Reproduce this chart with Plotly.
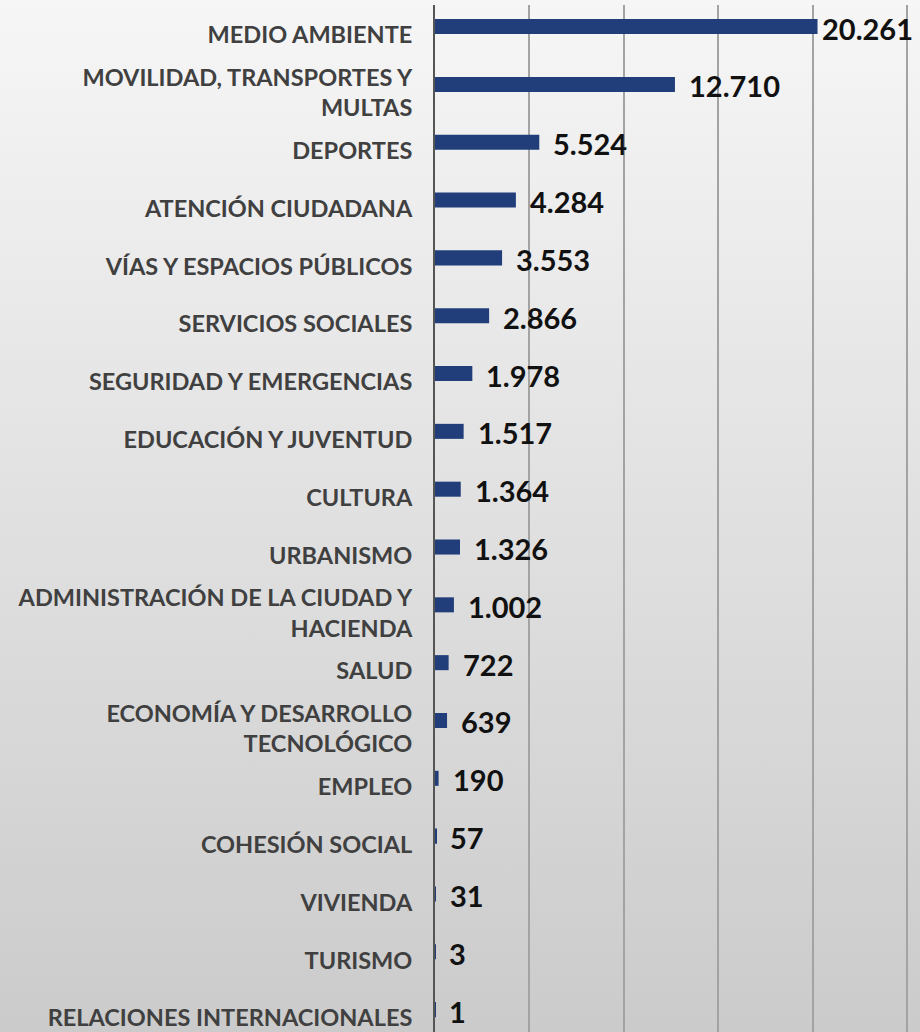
import plotly.graph_objects as go

categories = [
    "MEDIO AMBIENTE",
    "MOVILIDAD, TRANSPORTES Y<br>MULTAS",
    "DEPORTES",
    "ATENCIÓN CIUDADANA",
    "VÍAS Y ESPACIOS PÚBLICOS",
    "SERVICIOS SOCIALES",
    "SEGURIDAD Y EMERGENCIAS",
    "EDUCACIÓN Y JUVENTUD",
    "CULTURA",
    "URBANISMO",
    "ADMINISTRACIÓN DE LA CIUDAD Y<br>HACIENDA",
    "SALUD",
    "ECONOMÍA Y DESARROLLO<br>TECNOLÓGICO",
    "EMPLEO",
    "COHESIÓN SOCIAL",
    "VIVIENDA",
    "TURISMO",
    "RELACIONES INTERNACIONALES",
]
values = [20261, 12710, 5524, 4284, 3553, 2866, 1978, 1517, 1364, 1326,
          1002, 722, 639, 190, 57, 31, 3, 1]
x_ticks = [0, 5000, 10000, 15000, 20000, 25000]

W, H = 920, 1032
axis_px = 435
grid_end_px = 907
x_max = 25000 * (W - axis_px) / (grid_end_px - axis_px)

def fmt(v):
    return f"{v:,}".replace(",", ".")

fig = go.Figure()

# background gradient on a full-page helper subplot
fig.add_trace(go.Scatter(
    x=[0, 1, 1, 0, 0], y=[0, 0, 1, 1, 0],
    mode="lines", line=dict(width=0),
    fill="toself",
    fillgradient=dict(type="vertical",
                      colorscale=[[0, "#cbcbcb"], [1, "#f6f6f6"]]),
    hoverinfo="skip", showlegend=False,
    xaxis="x", yaxis="y",
))

fig.add_trace(go.Bar(
    x=values, y=categories, orientation="h",
    marker=dict(color="#213e7a", line=dict(width=0)),
    width=0.26, offset=-0.277,
    showlegend=False,
    xaxis="x2", yaxis="y2",
))

for i, (c, v) in enumerate(zip(categories, values)):
    fig.add_annotation(
        x=v, y=c, xref="x2", yref="y2",
        text=fmt(v), showarrow=False,
        xanchor="left", yanchor="middle",
        xshift=2 if i == 0 else 12, yshift=7,
        font=dict(family="Lato", size=29, color="#111111", weight="bold"),
    )

fig.update_layout(
    width=W, height=H,
    margin=dict(l=0, r=0, t=0, b=0),
    paper_bgcolor="#e6e6e6",
    plot_bgcolor="rgba(0,0,0,0)",
    xaxis=dict(domain=[0, 1], range=[0, 1], visible=False, fixedrange=True),
    yaxis=dict(domain=[0, 1], range=[0, 1], visible=False, fixedrange=True),
    xaxis2=dict(
        domain=[axis_px / W, 1], anchor="y2",
        range=[0, x_max], tickvals=x_ticks, showticklabels=False,
        showgrid=True, gridcolor="#a3a3a3", gridwidth=1.5,
        zeroline=False, showline=False, ticks="",
    ),
    yaxis2=dict(
        domain=[0, 1 - 5 / H], anchor="x2",
        categoryorder="array", categoryarray=categories,
        range=[17.24, -0.52],
        showline=True, linecolor="#555555", linewidth=2,
        showgrid=False, ticks="", ticklabelstandoff=16,
        tickfont=dict(family="Lato", size=23.5, color="#404040", weight="bold"),
    ),
)

fig.write_html(
    "out.html",
    config={"displayModeBar": False},
    post_script="document.body.style.margin='0';document.body.style.overflow='hidden';",
)
